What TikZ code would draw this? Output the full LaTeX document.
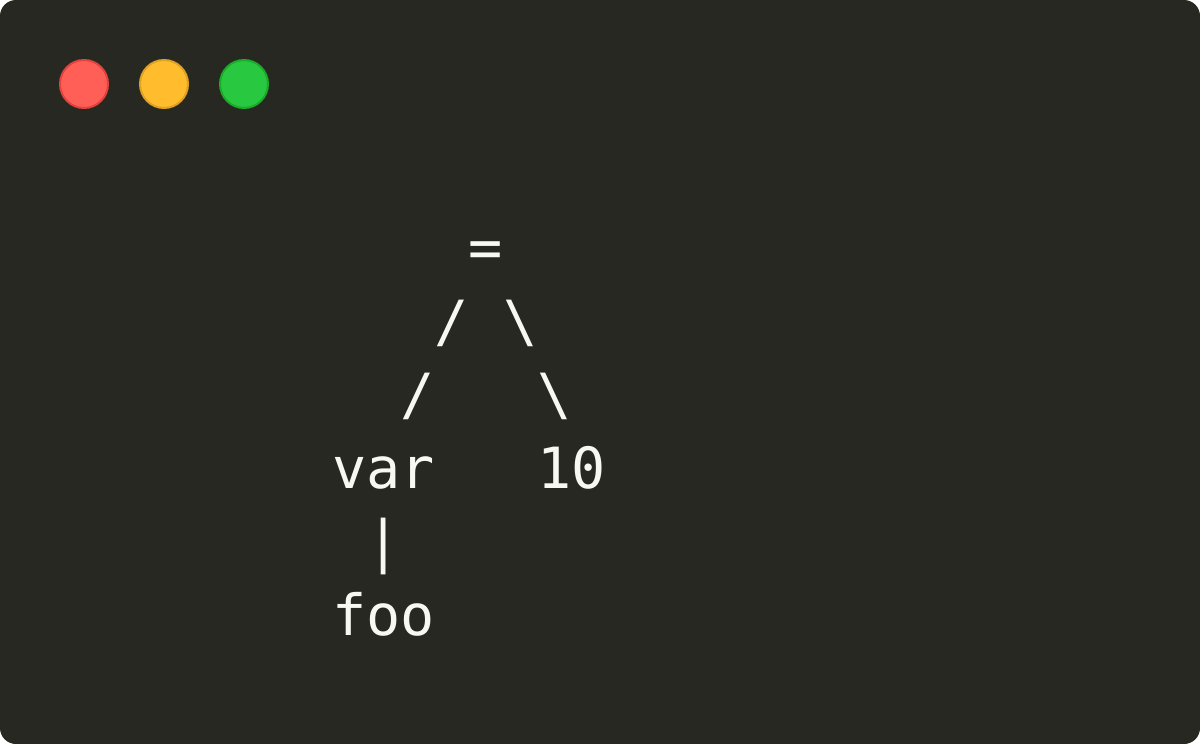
\documentclass[tikz,border=0pt]{standalone}
\usepackage{fontspec}
\newfontfamily\termfont{DejaVu Sans Mono}
\usepackage{tikz}
\usetikzlibrary{positioning}

\definecolor{termbg}{RGB}{39,40,34}
\definecolor{termfg}{RGB}{248,248,242}
\definecolor{btnred}{RGB}{255,95,87}
\definecolor{btnredline}{RGB}{224,68,62}
\definecolor{btnyellow}{RGB}{255,189,46}
\definecolor{btnyellowline}{RGB}{222,161,35}
\definecolor{btngreen}{RGB}{40,200,64}
\definecolor{btngreenline}{RGB}{26,171,41}

\begin{document}
\begin{tikzpicture}[
    x=1pt, y=-1pt,
    button/.style={circle, draw=#1line, fill=#1, line width=2pt, minimum size=48pt, inner sep=0pt},
    code/.style={anchor=base west, inner sep=0pt, text=termfg, font=\termfont\fontsize{56.8}{74}\selectfont}
]

% Window
\useasboundingbox (0,0) rectangle (1200,744);
\fill[termbg, rounded corners=16pt] (0,0) rectangle (1200,744);

% Window buttons
\node[button=btnred] (close) at (84,84) {};
\node[button=btnyellow] (minimize) at (164,84) {};
\node[button=btngreen] (zoom) at (244,84) {};

% Tree text
\node[code] (line1) at (332,267.5) {~~~~=};
\node[code] (line2) at (332,341) {~~~/~\textbackslash};
\node[code] (line3) at (332,414.5) {~~/~~~\textbackslash};
\node[code] (line4) at (332,488) {var~~~10};
\node[code] (line5) at (332,561.5) {~|};
\node[code] (line6) at (332,635) {foo};

\end{tikzpicture}
\end{document}
